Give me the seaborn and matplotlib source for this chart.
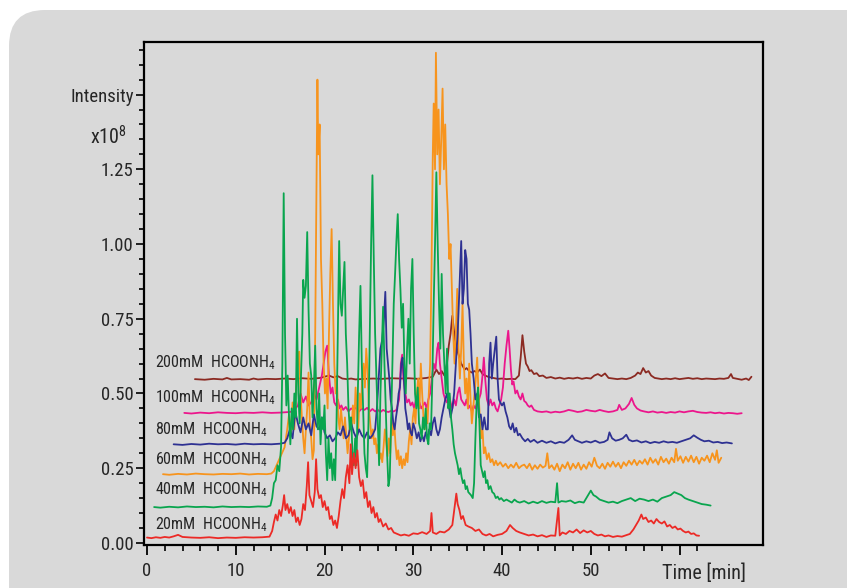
import matplotlib
matplotlib.use("Agg")
import matplotlib.pyplot as plt
from matplotlib import font_manager
from matplotlib.patches import FancyBboxPatch
from matplotlib.transforms import IdentityTransform, blended_transform_factory
from matplotlib.ticker import FixedLocator
import pandas as pd
import seaborn as sns

# chromatogram traces: (time [min], intensity [x10^8])
trace_20mM = [
    (0.0, 0.018), (0.5, 0.016), (1.0, 0.019), (1.5, 0.017), (2.0, 0.020), (2.5, 0.018), (3.0, 0.022),
    (3.5, 0.027), (4.0, 0.020), (5.0, 0.018), (6.0, 0.017), (7.0, 0.019), (8.0, 0.016), (9.0, 0.018),
    (10.0, 0.017), (11.0, 0.019), (12.0, 0.018), (13.0, 0.019), (13.8, 0.021),
    (14.1, 0.040), (14.3, 0.070), (14.5, 0.095), (14.7, 0.075), (14.9, 0.110), (15.1, 0.090), (15.3, 0.125),
    (15.45, 0.160), (15.6, 0.110), (15.8, 0.130), (16.0, 0.100), (16.2, 0.120), (16.4, 0.090), (16.6, 0.110),
    (16.8, 0.070), (17.0, 0.085), (17.2, 0.060), (17.4, 0.080), (17.6, 0.130), (17.8, 0.110), (18.0, 0.190),
    (18.15, 0.270), (18.3, 0.160), (18.5, 0.140), (18.7, 0.120), (18.9, 0.170), (19.05, 0.280), (19.2, 0.180),
    (19.4, 0.150), (19.6, 0.160), (19.8, 0.120), (20.0, 0.140), (20.2, 0.110), (20.4, 0.120), (20.6, 0.080),
    (20.8, 0.090), (21.0, 0.060), (21.2, 0.075), (21.4, 0.050), (21.6, 0.090), (21.8, 0.140), (22.0, 0.180),
    (22.2, 0.150), (22.4, 0.220), (22.6, 0.260), (22.8, 0.200), (22.95, 0.330), (23.1, 0.230), (23.3, 0.300),
    (23.5, 0.250), (23.7, 0.310), (23.9, 0.220), (24.1, 0.190), (24.3, 0.210), (24.5, 0.150), (24.7, 0.170),
    (24.9, 0.120), (25.1, 0.140), (25.3, 0.100), (25.5, 0.120), (25.7, 0.085), (25.9, 0.100), (26.1, 0.070),
    (26.3, 0.080), (26.6, 0.055), (26.9, 0.065), (27.2, 0.045), (27.5, 0.050), (27.8, 0.035), (28.2, 0.030),
    (28.6, 0.025), (29.0, 0.028), (29.5, 0.024), (30.0, 0.032), (30.5, 0.030), (31.0, 0.036), (31.5, 0.030),
    (31.9, 0.040), (32.05, 0.100), (32.2, 0.035), (32.6, 0.030), (33.0, 0.038), (33.5, 0.035), (34.0, 0.045),
    (34.4, 0.060), (34.7, 0.130), (34.85, 0.165), (35.0, 0.130), (35.2, 0.110), (35.4, 0.080), (35.6, 0.090),
    (35.9, 0.060), (36.2, 0.055), (36.6, 0.050), (37.0, 0.040), (37.4, 0.045), (37.8, 0.030), (38.2, 0.025),
    (38.6, 0.030), (39.0, 0.022), (39.5, 0.027), (40.0, 0.030), (40.5, 0.040), (40.9, 0.060), (41.2, 0.050),
    (41.6, 0.040), (42.0, 0.035), (42.5, 0.030), (43.0, 0.025), (43.5, 0.028), (44.0, 0.022), (44.5, 0.026),
    (45.0, 0.020), (45.5, 0.025), (46.0, 0.024), (46.35, 0.117), (46.5, 0.025), (46.8, 0.035), (47.2, 0.030),
    (47.6, 0.040), (48.0, 0.035), (48.4, 0.045), (48.8, 0.033), (49.2, 0.042), (49.6, 0.035), (50.0, 0.040),
    (50.4, 0.030), (50.8, 0.025), (51.2, 0.028), (51.6, 0.022), (52.0, 0.025), (52.5, 0.020), (53.0, 0.023),
    (53.5, 0.021), (54.0, 0.026), (54.4, 0.030), (54.8, 0.045), (55.1, 0.060), (55.4, 0.075), (55.7, 0.095),
    (55.9, 0.080), (56.2, 0.085), (56.5, 0.070), (56.8, 0.075), (57.1, 0.065), (57.4, 0.080), (57.7, 0.070),
    (58.0, 0.065), (58.3, 0.072), (58.6, 0.055), (58.9, 0.060), (59.2, 0.050), (59.5, 0.055), (59.8, 0.045),
    (60.1, 0.048), (60.4, 0.040), (60.7, 0.035), (61.0, 0.038), (61.3, 0.030), (61.6, 0.032), (61.9, 0.025),
    (62.2, 0.024),
]

trace_40mM = [
    (0.8, 0.120), (1.5, 0.118), (2.5, 0.121), (3.5, 0.119), (4.5, 0.122), (5.5, 0.120), (6.5, 0.121),
    (7.5, 0.119), (8.5, 0.122), (9.5, 0.120), (10.5, 0.121), (11.5, 0.120), (12.5, 0.122), (13.5, 0.121),
    (13.9, 0.125), (14.1, 0.150), (14.3, 0.200), (14.5, 0.210), (14.7, 0.260), (14.9, 0.240), (15.1, 0.320),
    (15.25, 0.600), (15.4, 1.170), (15.55, 0.700), (15.7, 0.460), (15.85, 0.560), (16.0, 0.420), (16.15, 0.330),
    (16.3, 0.450), (16.45, 0.380), (16.6, 0.500), (16.75, 0.420), (16.9, 0.750), (17.05, 0.500), (17.2, 0.400),
    (17.35, 0.560), (17.5, 0.700), (17.6, 0.880), (17.75, 0.820), (17.9, 0.860), (18.05, 1.040), (18.2, 0.780),
    (18.35, 0.600), (18.5, 0.560), (18.65, 0.420), (18.8, 0.520), (18.95, 0.660), (19.1, 0.450), (19.25, 0.380),
    (19.4, 0.500), (19.55, 0.330), (19.7, 0.420), (19.85, 0.380), (20.0, 0.460), (20.15, 0.300), (20.3, 0.210),
    (20.45, 0.350), (20.6, 0.250), (20.75, 0.300), (20.9, 0.210), (21.05, 0.280), (21.2, 0.210), (21.35, 0.400),
    (21.5, 0.700), (21.65, 1.010), (21.8, 0.800), (21.95, 0.760), (22.1, 0.850), (22.25, 0.940), (22.4, 0.700),
    (22.55, 0.600), (22.7, 0.450), (22.85, 0.380), (23.0, 0.420), (23.15, 0.300), (23.3, 0.260), (23.45, 0.350),
    (23.6, 0.260), (23.75, 0.500), (23.9, 0.700), (24.05, 0.860), (24.2, 0.600), (24.35, 0.450), (24.5, 0.300),
    (24.65, 0.250), (24.8, 0.220), (24.95, 0.400), (25.1, 0.700), (25.25, 1.000), (25.4, 1.230), (25.55, 0.950),
    (25.7, 0.700), (25.85, 0.550), (26.0, 0.400), (26.15, 0.260), (26.3, 0.500), (26.45, 0.650), (26.6, 0.790),
    (26.75, 0.600), (26.9, 0.450), (27.05, 0.300), (27.2, 0.190), (27.35, 0.220), (27.5, 0.400), (27.65, 0.600),
    (27.8, 0.800), (27.95, 0.900), (28.1, 1.010), (28.25, 1.100), (28.4, 0.950), (28.55, 0.850), (28.7, 0.720),
    (28.85, 0.800), (29.0, 0.600), (29.15, 0.500), (29.3, 0.650), (29.45, 0.750), (29.6, 0.600), (29.75, 0.850),
    (29.9, 0.950), (30.05, 0.700), (30.2, 0.500), (30.35, 0.450), (30.5, 0.520), (30.65, 0.400), (30.8, 0.380),
    (30.95, 0.350), (31.1, 0.420), (31.25, 0.380), (31.4, 0.450), (31.55, 0.350), (31.7, 0.330), (31.85, 0.400),
    (32.0, 0.380), (32.15, 0.550), (32.3, 0.800), (32.45, 1.000), (32.6, 1.240), (32.75, 1.000), (32.9, 0.800),
    (33.05, 0.650), (33.2, 0.900), (33.35, 0.700), (33.5, 0.600), (33.65, 0.500), (33.8, 0.650), (33.95, 0.450),
    (34.1, 0.500), (34.25, 0.420), (34.4, 0.380), (34.55, 0.330), (34.7, 0.300), (34.85, 0.280), (35.0, 0.260),
    (35.15, 0.230), (35.3, 0.250), (35.45, 0.220), (35.6, 0.200), (35.75, 0.210), (35.9, 0.180), (36.05, 0.190),
    (36.2, 0.170), (36.35, 0.165), (36.5, 0.160), (36.7, 0.150), (36.85, 0.200), (37.0, 0.350), (37.15, 0.480),
    (37.3, 0.520), (37.45, 0.400), (37.6, 0.260), (37.75, 0.240), (37.9, 0.220), (38.05, 0.240), (38.2, 0.200),
    (38.35, 0.210), (38.5, 0.180), (38.7, 0.190), (38.9, 0.170), (39.1, 0.165), (39.3, 0.150), (39.5, 0.155),
    (39.7, 0.145), (39.9, 0.150), (40.2, 0.140), (40.5, 0.145), (40.8, 0.140), (41.1, 0.135), (41.4, 0.145),
    (41.7, 0.138), (42.0, 0.135), (42.5, 0.140), (43.0, 0.132), (43.5, 0.138), (44.0, 0.133), (44.5, 0.140),
    (45.0, 0.134), (45.5, 0.138), (46.0, 0.136), (46.2, 0.200), (46.35, 0.135), (46.7, 0.140), (47.2, 0.138),
    (47.7, 0.142), (48.2, 0.133), (48.7, 0.138), (49.2, 0.135), (49.5, 0.150), (49.8, 0.165), (50.0, 0.175),
    (50.3, 0.160), (50.6, 0.155), (51.0, 0.145), (51.5, 0.140), (52.0, 0.135), (52.5, 0.138), (53.0, 0.133),
    (53.5, 0.140), (54.0, 0.145), (54.5, 0.150), (55.0, 0.140), (55.5, 0.148), (56.0, 0.145), (56.5, 0.140),
    (57.0, 0.145), (57.5, 0.138), (58.0, 0.150), (58.5, 0.155), (59.0, 0.160), (59.4, 0.170), (59.8, 0.165),
    (60.2, 0.160), (60.6, 0.150), (61.0, 0.145), (61.5, 0.140), (62.0, 0.135), (62.5, 0.130), (63.0, 0.128),
    (63.5, 0.125),
]

trace_60mM = [
    (1.8, 0.230), (2.5, 0.228), (3.5, 0.231), (4.5, 0.229), (5.5, 0.232), (6.5, 0.230), (7.5, 0.229),
    (8.5, 0.231), (9.5, 0.230), (10.5, 0.232), (11.5, 0.229), (12.5, 0.231), (13.5, 0.230), (14.0, 0.232),
    (14.3, 0.240), (14.6, 0.260), (14.9, 0.280), (15.2, 0.300), (15.5, 0.320), (15.8, 0.380), (16.0, 0.430),
    (16.2, 0.360), (16.4, 0.470), (16.6, 0.380), (16.8, 0.520), (17.0, 0.600), (17.15, 0.640), (17.3, 0.500),
    (17.45, 0.420), (17.6, 0.350), (17.75, 0.300), (17.9, 0.380), (18.05, 0.450), (18.2, 0.570), (18.35, 0.400),
    (18.5, 0.350), (18.65, 0.280), (18.8, 0.310), (18.95, 0.700), (19.1, 1.200), (19.2, 1.550), (19.3, 1.300),
    (19.45, 1.400), (19.6, 0.950), (19.75, 0.800), (19.9, 0.600), (20.05, 0.500), (20.2, 0.550), (20.35, 0.450),
    (20.5, 0.700), (20.65, 0.900), (20.8, 1.050), (20.95, 0.800), (21.1, 0.600), (21.25, 0.500), (21.4, 0.550),
    (21.55, 0.420), (21.7, 0.380), (21.85, 0.450), (22.0, 0.400), (22.15, 0.350), (22.3, 0.420), (22.45, 0.360),
    (22.6, 0.300), (22.75, 0.350), (22.9, 0.420), (23.05, 0.380), (23.2, 0.460), (23.35, 0.400), (23.5, 0.520),
    (23.65, 0.450), (23.8, 0.380), (23.95, 0.500), (24.1, 0.450), (24.25, 0.550), (24.4, 0.600), (24.55, 0.520),
    (24.7, 0.650), (24.85, 0.580), (25.0, 0.450), (25.15, 0.400), (25.3, 0.350), (25.45, 0.380), (25.6, 0.330),
    (25.75, 0.350), (25.9, 0.300), (26.05, 0.330), (26.2, 0.280), (26.35, 0.300), (26.5, 0.270), (26.65, 0.320),
    (26.8, 0.380), (26.95, 0.330), (27.1, 0.290), (27.25, 0.350), (27.4, 0.300), (27.55, 0.420), (27.7, 0.360),
    (27.85, 0.400), (28.0, 0.330), (28.15, 0.280), (28.3, 0.310), (28.45, 0.260), (28.6, 0.290), (28.75, 0.250),
    (28.9, 0.280), (29.05, 0.260), (29.2, 0.300), (29.35, 0.270), (29.5, 0.340), (29.65, 0.380), (29.8, 0.330),
    (29.95, 0.420), (30.1, 0.450), (30.25, 0.400), (30.4, 0.500), (30.55, 0.550), (30.7, 0.450), (30.85, 0.600),
    (31.0, 0.500), (31.15, 0.420), (31.3, 0.380), (31.45, 0.450), (31.6, 0.400), (31.75, 0.500), (31.9, 0.600),
    (32.05, 0.900), (32.2, 1.300), (32.3, 1.470), (32.45, 1.250), (32.55, 1.640), (32.7, 1.300), (32.85, 1.450),
    (33.0, 1.200), (33.15, 1.350), (33.3, 1.520), (33.45, 1.250), (33.6, 1.400), (33.75, 1.200), (33.9, 1.100),
    (34.05, 0.950), (34.2, 1.000), (34.35, 0.850), (34.5, 0.700), (34.65, 0.600), (34.8, 0.700), (34.95, 0.850),
    (35.1, 0.650), (35.25, 0.550), (35.4, 0.650), (35.55, 0.800), (35.7, 0.600), (35.85, 0.500), (36.0, 0.550),
    (36.15, 0.450), (36.3, 0.600), (36.45, 0.480), (36.6, 0.400), (36.75, 0.450), (36.9, 0.500), (37.05, 0.550),
    (37.2, 0.620), (37.35, 0.500), (37.5, 0.420), (37.65, 0.350), (37.8, 0.380), (37.95, 0.300), (38.1, 0.320),
    (38.3, 0.280), (38.5, 0.300), (38.7, 0.270), (38.9, 0.280), (39.1, 0.260), (39.3, 0.275), (39.5, 0.260),
    (39.8, 0.270), (40.1, 0.255), (40.4, 0.265), (40.7, 0.250), (41.0, 0.262), (41.3, 0.252), (41.6, 0.268),
    (41.9, 0.250), (42.2, 0.258), (42.5, 0.262), (42.8, 0.250), (43.1, 0.265), (43.4, 0.245), (43.7, 0.260),
    (44.0, 0.248), (44.3, 0.262), (44.6, 0.252), (44.9, 0.258), (45.1, 0.300), (45.3, 0.250), (45.6, 0.260),
    (45.9, 0.245), (46.2, 0.265), (46.5, 0.240), (46.8, 0.262), (47.1, 0.250), (47.4, 0.270), (47.7, 0.245),
    (48.0, 0.265), (48.3, 0.250), (48.6, 0.268), (48.9, 0.245), (49.2, 0.262), (49.5, 0.248), (49.8, 0.270),
    (50.1, 0.255), (50.4, 0.285), (50.7, 0.258), (51.0, 0.250), (51.3, 0.265), (51.6, 0.248), (51.9, 0.268),
    (52.2, 0.255), (52.5, 0.272), (52.8, 0.255), (53.1, 0.268), (53.4, 0.250), (53.7, 0.270), (54.0, 0.258),
    (54.3, 0.275), (54.6, 0.262), (54.9, 0.278), (55.2, 0.260), (55.5, 0.275), (55.8, 0.265), (56.1, 0.280),
    (56.4, 0.262), (56.7, 0.285), (57.0, 0.268), (57.3, 0.280), (57.6, 0.262), (57.9, 0.288), (58.2, 0.270),
    (58.5, 0.282), (58.8, 0.265), (59.1, 0.285), (59.4, 0.270), (59.6, 0.315), (59.8, 0.275), (60.1, 0.290),
    (60.4, 0.268), (60.7, 0.288), (61.0, 0.272), (61.3, 0.292), (61.6, 0.270), (61.9, 0.288), (62.2, 0.265),
    (62.5, 0.285), (62.8, 0.275), (63.1, 0.292), (63.4, 0.270), (63.7, 0.300), (64.0, 0.278), (64.2, 0.310),
    (64.4, 0.268), (64.7, 0.285),
]

trace_80mM = [
    (3.0, 0.330), (4.0, 0.328), (5.0, 0.331), (6.0, 0.329), (7.0, 0.332), (8.0, 0.330), (9.0, 0.331),
    (10.0, 0.329), (11.0, 0.332), (12.0, 0.330), (13.0, 0.331), (14.0, 0.330), (15.0, 0.332), (15.5, 0.335),
    (15.8, 0.350), (16.1, 0.380), (16.4, 0.350), (16.7, 0.440), (17.0, 0.400), (17.3, 0.370), (17.6, 0.420),
    (17.9, 0.380), (18.2, 0.400), (18.5, 0.360), (18.8, 0.430), (19.1, 0.390), (19.4, 0.380), (19.7, 0.420),
    (20.0, 0.370), (20.3, 0.350), (20.6, 0.360), (20.9, 0.340), (21.2, 0.350), (21.5, 0.370), (21.8, 0.360),
    (22.1, 0.390), (22.4, 0.350), (22.7, 0.360), (23.0, 0.400), (23.3, 0.370), (23.6, 0.350), (23.9, 0.380),
    (24.2, 0.360), (24.5, 0.350), (24.8, 0.370), (25.1, 0.350), (25.4, 0.360), (25.7, 0.380), (25.9, 0.450),
    (26.1, 0.550), (26.3, 0.650), (26.5, 0.680), (26.7, 0.750), (26.85, 0.840), (27.0, 0.650), (27.15, 0.600),
    (27.3, 0.550), (27.45, 0.480), (27.6, 0.450), (27.75, 0.400), (27.9, 0.380), (28.05, 0.420), (28.2, 0.450),
    (28.35, 0.500), (28.5, 0.520), (28.65, 0.600), (28.8, 0.620), (28.95, 0.550), (29.1, 0.450), (29.25, 0.420),
    (29.4, 0.380), (29.55, 0.400), (29.7, 0.370), (29.85, 0.360), (30.0, 0.400), (30.2, 0.380), (30.4, 0.350),
    (30.6, 0.370), (30.8, 0.340), (31.0, 0.360), (31.2, 0.340), (31.4, 0.370), (31.6, 0.350), (31.8, 0.380),
    (32.0, 0.360), (32.2, 0.400), (32.4, 0.420), (32.6, 0.380), (32.8, 0.360), (33.0, 0.380), (33.2, 0.420),
    (33.4, 0.450), (33.6, 0.480), (33.8, 0.500), (34.0, 0.460), (34.2, 0.420), (34.4, 0.450), (34.6, 0.500),
    (34.8, 0.600), (35.0, 0.700), (35.2, 0.850), (35.4, 1.010), (35.55, 0.800), (35.7, 0.850), (35.85, 0.980),
    (36.0, 0.950), (36.15, 0.800), (36.3, 0.780), (36.45, 0.700), (36.6, 0.600), (36.8, 0.550), (37.0, 0.480),
    (37.2, 0.500), (37.4, 0.420), (37.6, 0.430), (37.8, 0.380), (38.0, 0.420), (38.2, 0.380), (38.4, 0.380),
    (38.55, 0.600), (38.7, 0.670), (38.85, 0.550), (39.0, 0.600), (39.2, 0.650), (39.35, 0.690), (39.5, 0.550),
    (39.65, 0.480), (39.8, 0.470), (40.0, 0.460), (40.2, 0.470), (40.4, 0.440), (40.6, 0.420), (40.8, 0.390),
    (41.0, 0.380), (41.2, 0.400), (41.4, 0.370), (41.6, 0.385), (41.8, 0.360), (42.0, 0.365), (42.3, 0.350),
    (42.6, 0.340), (42.9, 0.348), (43.2, 0.338), (43.6, 0.345), (44.0, 0.335), (44.5, 0.342), (45.0, 0.335),
    (45.5, 0.340), (46.0, 0.333), (46.5, 0.338), (47.0, 0.335), (47.5, 0.345), (47.9, 0.360), (48.2, 0.345),
    (48.6, 0.340), (49.0, 0.335), (49.5, 0.340), (50.0, 0.336), (50.5, 0.342), (51.0, 0.335), (51.5, 0.338),
    (51.9, 0.345), (52.1, 0.370), (52.4, 0.350), (52.8, 0.342), (53.2, 0.345), (53.6, 0.350), (54.0, 0.362),
    (54.3, 0.345), (54.7, 0.340), (55.2, 0.343), (55.7, 0.336), (56.2, 0.340), (56.7, 0.334), (57.2, 0.338),
    (57.7, 0.335), (58.2, 0.340), (58.7, 0.336), (59.2, 0.338), (59.7, 0.335), (60.2, 0.340), (60.7, 0.345),
    (61.2, 0.350), (61.6, 0.360), (62.0, 0.352), (62.4, 0.345), (62.8, 0.340), (63.3, 0.342), (63.8, 0.336),
    (64.3, 0.338), (64.8, 0.334), (65.3, 0.336), (65.9, 0.333),
]

trace_100mM = [
    (4.2, 0.435), (5.0, 0.433), (6.0, 0.436), (7.0, 0.434), (8.0, 0.437), (9.0, 0.435), (10.0, 0.434),
    (11.0, 0.436), (12.0, 0.435), (13.0, 0.437), (14.0, 0.435), (15.0, 0.436), (16.0, 0.438), (16.5, 0.440),
    (17.0, 0.460), (17.3, 0.500), (17.6, 0.470), (17.9, 0.490), (18.2, 0.460), (18.5, 0.470), (18.8, 0.500),
    (19.1, 0.480), (19.4, 0.520), (19.7, 0.560), (19.9, 0.600), (20.1, 0.640), (20.3, 0.660), (20.5, 0.560),
    (20.7, 0.500), (20.9, 0.520), (21.1, 0.470), (21.3, 0.460), (21.5, 0.480), (21.7, 0.450), (21.9, 0.460),
    (22.1, 0.445), (22.4, 0.455), (22.7, 0.440), (23.0, 0.450), (23.3, 0.445), (23.6, 0.455), (23.9, 0.440),
    (24.2, 0.450), (24.5, 0.445), (24.8, 0.452), (25.1, 0.440), (25.4, 0.448), (25.7, 0.440), (26.0, 0.445),
    (26.3, 0.438), (26.6, 0.445), (26.9, 0.440), (27.2, 0.438), (27.5, 0.442), (27.8, 0.440), (28.1, 0.445),
    (28.4, 0.480), (28.6, 0.600), (28.75, 0.630), (28.9, 0.550), (29.1, 0.500), (29.3, 0.470), (29.5, 0.480),
    (29.7, 0.460), (29.9, 0.470), (30.1, 0.450), (30.3, 0.480), (30.5, 0.460), (30.7, 0.470), (30.9, 0.450),
    (31.1, 0.460), (31.3, 0.470), (31.5, 0.450), (31.7, 0.480), (31.9, 0.500), (32.1, 0.550), (32.3, 0.600),
    (32.5, 0.580), (32.7, 0.650), (32.85, 0.670), (33.0, 0.600), (33.2, 0.550), (33.4, 0.500), (33.6, 0.480),
    (33.8, 0.470), (34.0, 0.500), (34.2, 0.470), (34.4, 0.450), (34.6, 0.480), (34.8, 0.460), (35.0, 0.500),
    (35.2, 0.520), (35.4, 0.480), (35.6, 0.470), (35.8, 0.460), (36.0, 0.480), (36.2, 0.450), (36.4, 0.460),
    (36.6, 0.440), (36.8, 0.460), (37.0, 0.450), (37.2, 0.470), (37.4, 0.480), (37.6, 0.500), (37.8, 0.560),
    (37.95, 0.620), (38.1, 0.550), (38.3, 0.480), (38.5, 0.460), (38.7, 0.480), (38.9, 0.460), (39.1, 0.470),
    (39.3, 0.450), (39.5, 0.440), (39.7, 0.460), (39.9, 0.480), (40.1, 0.520), (40.3, 0.600), (40.5, 0.660),
    (40.7, 0.710), (40.85, 0.650), (41.0, 0.580), (41.15, 0.530), (41.3, 0.540), (41.5, 0.500), (41.7, 0.510),
    (41.9, 0.490), (42.1, 0.480), (42.3, 0.500), (42.5, 0.475), (42.7, 0.470), (42.9, 0.460), (43.1, 0.455),
    (43.3, 0.460), (43.6, 0.445), (44.0, 0.440), (44.5, 0.438), (45.0, 0.440), (45.5, 0.436), (46.0, 0.439),
    (46.5, 0.437), (47.0, 0.440), (47.5, 0.445), (48.0, 0.442), (48.5, 0.438), (49.0, 0.440), (49.5, 0.445),
    (50.0, 0.442), (50.5, 0.440), (51.0, 0.445), (51.5, 0.441), (52.0, 0.438), (52.5, 0.440), (53.0, 0.445),
    (53.2, 0.462), (53.5, 0.445), (53.9, 0.450), (54.3, 0.465), (54.6, 0.485), (54.9, 0.462), (55.2, 0.450),
    (55.6, 0.443), (56.0, 0.440), (56.5, 0.437), (57.0, 0.440), (57.5, 0.436), (58.0, 0.438), (58.5, 0.435),
    (59.0, 0.438), (59.5, 0.436), (60.0, 0.440), (60.5, 0.437), (61.0, 0.440), (61.5, 0.442), (62.0, 0.438),
    (62.5, 0.436), (63.0, 0.435), (63.5, 0.437), (64.0, 0.434), (64.5, 0.436), (65.0, 0.433), (65.5, 0.435),
    (66.0, 0.434), (66.5, 0.432), (67.0, 0.434),
]

trace_200mM = [
    (5.4, 0.548), (6.5, 0.546), (7.5, 0.549), (8.5, 0.547), (9.0, 0.552), (9.5, 0.547), (10.5, 0.548),
    (11.5, 0.546), (12.0, 0.550), (12.5, 0.547), (13.5, 0.549), (14.5, 0.548), (15.5, 0.550), (16.5, 0.548),
    (17.5, 0.551), (18.5, 0.549), (19.5, 0.552), (20.0, 0.556), (20.5, 0.560), (21.0, 0.554), (21.5, 0.558),
    (22.0, 0.550), (22.5, 0.548), (23.0, 0.550), (23.5, 0.547), (24.5, 0.549), (25.5, 0.550), (26.5, 0.549),
    (27.5, 0.551), (28.5, 0.550), (29.5, 0.551), (30.5, 0.549), (31.5, 0.552), (32.2, 0.556), (32.6, 0.580),
    (32.9, 0.565), (33.2, 0.575), (33.5, 0.560), (33.8, 0.600), (34.0, 0.660), (34.2, 0.700), (34.4, 0.760),
    (34.55, 0.720), (34.7, 0.680), (34.85, 0.660), (35.0, 0.640), (35.2, 0.620), (35.4, 0.600), (35.6, 0.590),
    (35.8, 0.580), (36.0, 0.585), (36.3, 0.575), (36.6, 0.570), (36.9, 0.575), (37.2, 0.570), (37.5, 0.580),
    (37.8, 0.565), (38.1, 0.560), (38.5, 0.555), (39.0, 0.552), (39.5, 0.549), (40.0, 0.550), (40.5, 0.548),
    (41.0, 0.549), (41.5, 0.548), (41.9, 0.560), (42.1, 0.620), (42.3, 0.695), (42.5, 0.640), (42.7, 0.600),
    (42.9, 0.590), (43.1, 0.575), (43.3, 0.578), (43.6, 0.565), (43.9, 0.568), (44.2, 0.558), (44.6, 0.560),
    (45.0, 0.552), (45.5, 0.555), (46.0, 0.550), (46.5, 0.553), (47.0, 0.549), (47.5, 0.552), (48.0, 0.550),
    (48.5, 0.553), (49.0, 0.549), (49.5, 0.552), (50.0, 0.550), (50.4, 0.560), (50.8, 0.565), (51.2, 0.558),
    (51.6, 0.567), (52.0, 0.552), (52.5, 0.550), (53.0, 0.548), (53.5, 0.550), (54.0, 0.548), (54.5, 0.552),
    (55.0, 0.560), (55.3, 0.570), (55.6, 0.565), (55.9, 0.585), (56.2, 0.570), (56.5, 0.575), (56.8, 0.560),
    (57.2, 0.552), (57.6, 0.550), (58.0, 0.548), (58.5, 0.550), (59.0, 0.548), (59.5, 0.551), (60.0, 0.548),
    (60.5, 0.550), (61.0, 0.552), (61.5, 0.549), (62.0, 0.551), (62.5, 0.548), (63.0, 0.550), (63.5, 0.549),
    (64.0, 0.548), (64.5, 0.550), (65.0, 0.549), (65.5, 0.552), (65.8, 0.565), (66.0, 0.552), (66.5, 0.549),
    (67.0, 0.546), (67.5, 0.550), (67.8, 0.545), (68.1, 0.556),
]

buffers = ["20mM", "40mM", "60mM", "80mM", "100mM", "200mM"]
label_y = [0.060, 0.177, 0.277, 0.378, 0.485, 0.602]
colors = {"20mM": "#ec2a26", "40mM": "#09a54e", "60mM": "#f7941d",
          "80mM": "#2e3192", "100mM": "#ec168c", "200mM": "#8b2a22"}
draw_order = ["200mM", "100mM", "60mM", "80mM", "40mM", "20mM"]

y_major = [0.0, 0.25, 0.5, 0.75, 1.0, 1.25, 1.5]
y_labels = ["0.00", "0.25", "0.50", "0.75", "1.00", "1.25", "Intensity"]
x_major = [0, 10, 20, 30, 40, 50, 60]
x_labels = ["0", "10", "20", "30", "40", "50", ""]

traces = {"20mM": trace_20mM, "40mM": trace_40mM, "60mM": trace_60mM,
          "80mM": trace_80mM, "100mM": trace_100mM, "200mM": trace_200mM}

sns.set_theme(style="ticks")

# pick a condensed face if one is installed
installed = {f.name for f in font_manager.fontManager.ttflist}
font = "DejaVu Sans"
for cand in ["Liberation Sans Narrow", "Roboto Condensed", "Open Sans Condensed", "Liberation Sans"]:
    if cand in installed:
        font = cand
        break
plt.rcParams["font.family"] = [font, "DejaVu Sans"]
plt.rcParams["mathtext.fontset"] = "custom"
plt.rcParams["mathtext.rm"] = font
plt.rcParams["mathtext.it"] = font

frames = []
for name, pts in traces.items():
    d = pd.DataFrame(pts, columns=["time", "intensity"])
    d["buffer"] = name
    frames.append(d)
df = pd.concat(frames, ignore_index=True)

fig = plt.figure(figsize=(8.47, 5.88), dpi=100)
fig.patch.set_facecolor("white")

# grey rounded panel behind everything
panel = FancyBboxPatch((9, -60), 950, 638, boxstyle="round,pad=0,rounding_size=36",
                       transform=IdentityTransform(), facecolor="#d9d9d9",
                       edgecolor="none", zorder=-10)
fig.add_artist(panel)

ax = fig.add_axes([0.170, 0.0731, 0.7308, 0.8555])
ax.set_facecolor("#d9d9d9")

sns.lineplot(data=df, x="time", y="intensity", hue="buffer", hue_order=draw_order,
             palette=colors, estimator=None, sort=False, linewidth=1.3,
             legend=False, ax=ax)

ax.set_xlim(-0.34, 69.4)
ax.set_ylim(-0.007, 1.676)
ax.set_xlabel("")
ax.set_ylabel("")

for s in ax.spines.values():
    s.set_visible(True)
    s.set_color("black")
    s.set_linewidth(1.6)

ax.set_yticks(y_major)
ax.set_yticklabels(y_labels)
ax.yaxis.set_minor_locator(FixedLocator([i * 0.05 for i in range(34)]))
ax.set_xticks(x_major)
ax.set_xticklabels(x_labels)
ax.xaxis.set_minor_locator(FixedLocator([t for t in range(2, 63, 2) if t % 10]))

ax.tick_params(axis="y", which="major", length=5.5, width=1.2, pad=2, labelsize=13.5, color="black")
ax.tick_params(axis="y", which="minor", length=3.5, width=1.2, color="black")
ax.tick_params(axis="x", which="major", length=7.5, width=1.3, pad=5, labelsize=13.5, color="black")
ax.tick_params(axis="x", which="minor", length=4.5, width=1.2, color="black")

trans = blended_transform_factory(ax.transData, ax.transAxes)
ax.text(62.8, -0.036, "Time [min]", transform=trans, ha="center", va="top", fontsize=14.5)
ytrans = blended_transform_factory(ax.transAxes, ax.transData)
ax.text(-0.028, 1.36, "x10$^8$", transform=ytrans, ha="right", va="center", fontsize=14.5)

for name, y in zip(buffers, label_y):
    ax.text(0.9, y, name + "  HCOONH$_4$", ha="left", va="center", fontsize=11.5)

fig.savefig("out.png", dpi=100)
